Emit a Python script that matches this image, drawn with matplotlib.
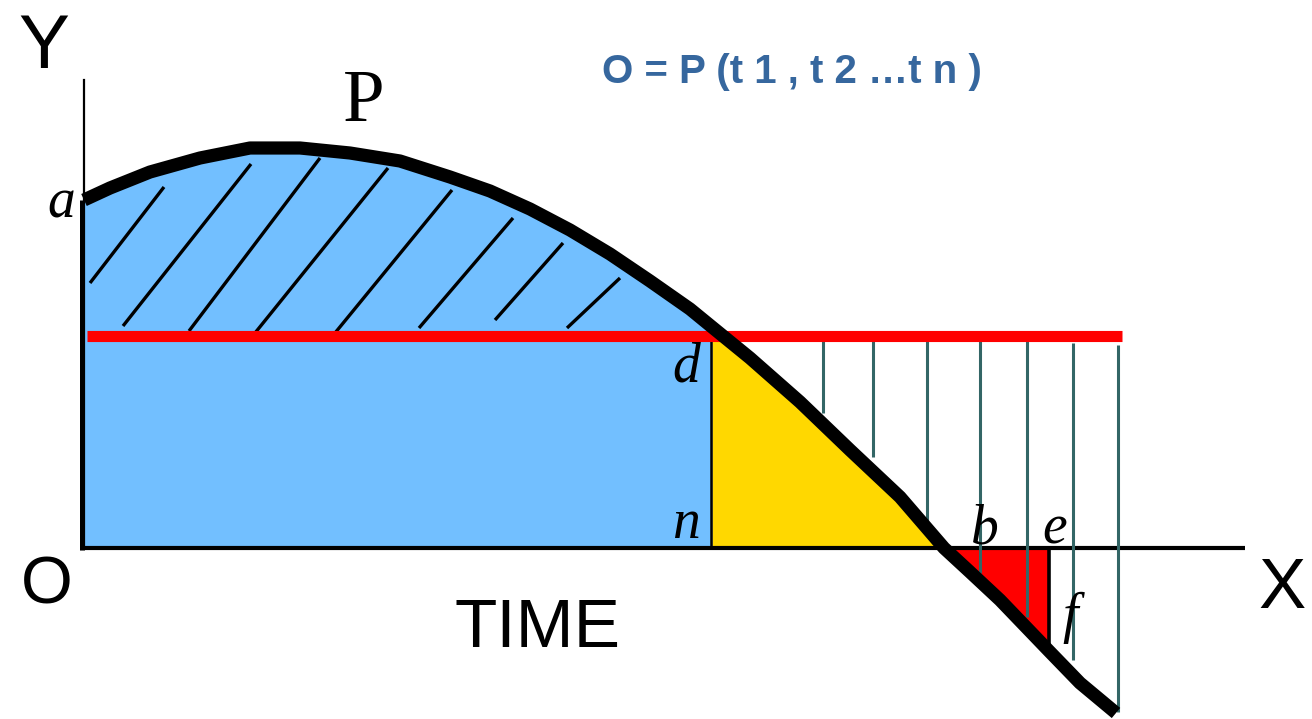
import matplotlib
matplotlib.use('Agg')
import numpy as np
import matplotlib.pyplot as plt

# curve P (pixel units, y grows downwards)
curve_x = [84, 110, 150, 200, 250, 300, 350, 400, 450, 490, 530, 570, 610,
           650, 690, 712, 750, 800, 850, 900, 944, 970, 1000, 1049, 1080, 1116]
curve_y = [200, 188, 172, 158, 148, 148, 153, 161, 177, 191, 209, 230, 254,
           281, 309, 327, 358, 402, 450, 497, 548, 572, 600, 651, 683, 713]

axis_y = 548      # the X axis (level O)
level_y = 336     # red horizontal line through d
d_x = 712         # vertical d-n
e_x = 1049        # vertical e-f
e_bottom = 643

# diagonal hatch strokes in the blue area: (x0, y0, x1, y1)
hatch_x0 = [90, 123, 189, 255, 335, 419, 495, 567]
hatch_y0 = [283, 326, 331, 333, 333, 328, 320, 328]
hatch_x1 = [164, 251, 320, 388, 452, 513, 563, 620]
hatch_y1 = [187, 164, 158, 168, 190, 218, 243, 278]

# grey-green drop lines from the red line to the curve
drop_x = [823, 873, 927, 980, 1027, 1073, 1118]
drop_top = [336, 336, 336, 336, 338, 343, 345]
drop_bottom = [413, 457, 522, 573, 617, 660, 712]

title = 'O = P (t 1 , t 2 \u2026t n )'

fig = plt.figure(figsize=(13.12, 7.19), dpi=100)
ax = fig.add_axes([0, 0, 1, 1])
ax.set_xlim(0, 1312)
ax.set_ylim(719, 0)
ax.axis('off')

cx = np.array(curve_x)
cy = np.array(curve_y)

# coloured areas
ax.fill_between(cx, cy, axis_y, where=cx <= d_x, color='#72bfff', lw=0)
ax.fill_between(cx, cy, axis_y, where=(cx >= d_x) & (cy <= axis_y),
                color='#ffd800', lw=0)
ax.fill_between(cx, cy, axis_y, where=(cx >= 944) & (cx <= e_x),
                color='#ff0000', lw=0)

# hatch strokes
for i in range(len(hatch_x0)):
    ax.plot([hatch_x0[i], hatch_x1[i]], [hatch_y0[i], hatch_y1[i]],
            color='black', lw=2.4, solid_capstyle='butt')

# axes
ax.plot([84, 84], [80, axis_y], color='black', lw=1.6)
ax.plot([82, 82], [200, axis_y + 2], color='black', lw=3.6, solid_capstyle='butt')
ax.plot([80, 1245], [axis_y, axis_y], color='black', lw=3, solid_capstyle='butt')

# verticals d-n and e-f
ax.plot([d_x - 1, d_x - 1], [level_y, axis_y], color='black', lw=1.8)
ax.plot([e_x, e_x], [axis_y, e_bottom], color='black', lw=2.6)

# drop lines
for i in range(len(drop_x)):
    ax.plot([drop_x[i], drop_x[i]], [drop_top[i], drop_bottom[i]],
            color='#336666', lw=2.2, solid_capstyle='butt')

# red level line
ax.plot([87, 1122], [level_y, level_y], color='#ff0000', lw=8,
        solid_capstyle='butt')

# the curve
ax.plot(cx, cy, color='black', lw=9.5, solid_capstyle='butt',
        solid_joinstyle='round')

# labels
sans = 'Liberation Sans'
serif = 'Liberation Serif'
ax.text(44, 68, 'Y', fontsize=55, family=sans, ha='center', va='baseline')
ax.text(47, 603, 'O', fontsize=48, family=sans, ha='center', va='baseline')
ax.text(1282, 608, 'X', fontsize=51, family=sans, ha='center', va='baseline')
ax.text(537, 647, 'TIME', fontsize=50, family=sans, ha='center', va='baseline')
ax.text(364, 121, 'P', fontsize=54, family=serif, ha='center', va='baseline')
for lab, lx, ly in [('a', 61, 218), ('d', 686, 382), ('n', 686, 538),
                    ('b', 985, 543), ('e', 1055, 543), ('f', 1070, 632)]:
    ax.text(lx, ly, lab, fontsize=40, family=serif, style='italic',
            ha='center', va='baseline')
ax.text(792, 83, title, fontsize=29, family=sans, weight='bold',
        color='#36679e', ha='center', va='baseline')

plt.savefig('out.png', dpi=100)
plt.close()
